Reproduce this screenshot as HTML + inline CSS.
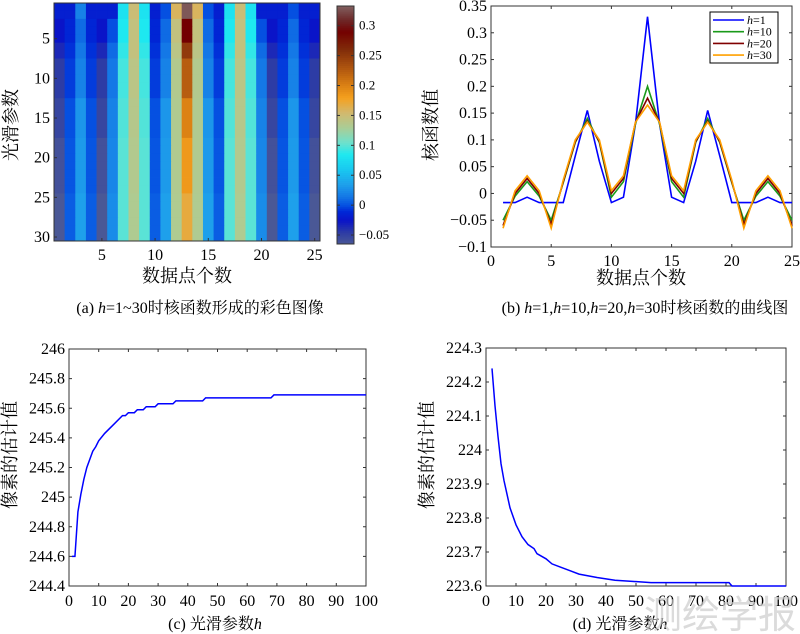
<!DOCTYPE html>
<html><head><meta charset="utf-8"><style>
html,body{margin:0;padding:0;background:#fff;}
svg{display:block;font-family:"Liberation Serif","Noto Serif CJK SC","Noto Sans CJK SC",serif;}
</style></head><body>
<svg id="fig" width="800" height="634" viewBox="0 0 800 634" xmlns="http://www.w3.org/2000/svg">
<g id="gA"></g>
<g id="gB"></g>
<g id="gC"></g>
<g id="gD"></g>
<text x="720" y="628" font-size="38" fill="#ccc" opacity="0.7" text-anchor="middle" font-family="'Noto Sans CJK SC',sans-serif">测绘学报</text>
</svg>
<script>
// ---------- data ----------
const pointsX = [1,2,3,4,5,6,7,8,9,10,11,12,13,14,15,16,17,18,19,20,21,22,23,24,25];
const kernH1  = [-0.017,-0.017,-0.007,-0.017,-0.017,-0.017,0.07,0.155,0.06,-0.017,-0.007,0.13,0.33,0.13,-0.007,-0.017,0.06,0.155,0.07,-0.017,-0.017,-0.017,-0.007,-0.017,-0.017];
const kernH10 = [-0.05,-0.005,0.022,-0.005,-0.05,0.02,0.095,0.14,0.095,-0.007,0.022,0.13,0.2,0.13,0.022,-0.007,0.095,0.14,0.095,0.02,-0.05,-0.005,0.022,-0.005,-0.05];
const kernH20 = [-0.06,0.0,0.028,0.0,-0.058,0.022,0.097,0.135,0.097,0.0,0.028,0.133,0.178,0.133,0.028,0.0,0.097,0.135,0.097,0.022,-0.058,0.0,0.028,0.0,-0.06];
const kernH30 = [-0.065,0.005,0.033,0.005,-0.065,0.025,0.1,0.133,0.1,0.005,0.033,0.133,0.165,0.133,0.033,0.005,0.1,0.133,0.1,0.025,-0.065,0.005,0.033,0.005,-0.065];
const legendLabels = ["1","10","20","30"];
// heatmap: row vectors and which h rows use each
const hmRowA = [-0.017,-0.017,0.02,-0.017,-0.017,-0.017,0.08,0.15,0.08,-0.017,0.0,0.16,0.33,0.16,0.0,-0.017,0.08,0.15,0.08,-0.017,-0.017,-0.017,0.0,-0.017,-0.017];
const hmRowB = [-0.025,-0.012,0.01,-0.012,-0.025,0.0,0.085,0.145,0.085,-0.012,0.01,0.145,0.29,0.145,0.01,-0.012,0.085,0.145,0.085,0.0,-0.025,-0.012,0.01,-0.012,-0.025];
const hmRowC = [-0.035,-0.008,0.015,-0.008,-0.035,0.01,0.09,0.145,0.09,-0.008,0.015,0.14,0.25,0.14,0.015,-0.008,0.09,0.145,0.09,0.01,-0.035,-0.008,0.015,-0.008,-0.035];
const hmRowD = [-0.045,-0.005,0.02,-0.005,-0.045,0.015,0.095,0.14,0.095,-0.005,0.02,0.135,0.225,0.135,0.02,-0.005,0.095,0.14,0.095,0.015,-0.045,-0.005,0.02,-0.005,-0.045];
const hmRowE = [-0.052,0.0,0.03,0.0,-0.052,0.02,0.098,0.137,0.098,0.0,0.03,0.134,0.2,0.134,0.03,0.0,0.098,0.137,0.098,0.02,-0.052,0.0,0.03,0.0,-0.052];
const hmRowF = [-0.06,0.002,0.032,0.002,-0.06,0.022,0.1,0.135,0.1,0.002,0.032,0.134,0.185,0.134,0.032,0.002,0.1,0.135,0.1,0.022,-0.06,0.002,0.032,0.002,-0.06];
const hmRowG = [-0.065,0.005,0.035,0.005,-0.065,0.025,0.1,0.133,0.1,0.005,0.035,0.133,0.17,0.133,0.035,0.005,0.1,0.133,0.1,0.025,-0.065,0.005,0.035,0.005,-0.065];
const hmRowUse = ["A","A","B","B","B","C","C","D","D","D","D","D","E","E","E","E","E","F","F","F","F","F","F","F","G","G","G","G","G","G"];
const cbTicks = [-0.05,0,0.05,0.1,0.15,0.2,0.25,0.3];
const cbTickLabels = ["\u22120.05","0","0.05","0.1","0.15","0.2","0.25","0.3"];
// panel c
const hC = [1,2,3,4,5,6,8,9,10,12,15,18,19,20,22,23,25,26,29,30,35,36,45,46,68,69,100];
const vC = [244.6,244.6,244.9,245.02,245.12,245.2,245.31,245.34,245.38,245.43,245.49,245.55,245.55,245.57,245.57,245.59,245.59,245.61,245.61,245.63,245.63,245.65,245.65,245.67,245.67,245.69,245.69];
// panel d
const hD = [2,3,4,5,6,7,8,10,12,14,16,17,20,22,25,28,31,37,43,55,81,82,100];
const vD = [224.24,224.13,224.04,223.96,223.91,223.87,223.83,223.78,223.745,223.722,223.71,223.695,223.68,223.665,223.655,223.645,223.635,223.625,223.617,223.61,223.61,223.6,223.6];
const cTicks = [244.4,244.6,244.8,245,245.2,245.4,245.6,245.8,246];
const cTickLabels = ["244.4","244.6","244.8","245","245.2","245.4","245.6","245.8","246"];
const dTicks = [223.6,223.7,223.8,223.9,224,224.1,224.2,224.3];
const dTickLabels = ["223.6","223.7","223.8","223.9","224","224.1","224.2","224.3"];
const hTicks = [0,10,20,30,40,50,60,70,80,90,100];

// ---------- helpers ----------
const NS="http://www.w3.org/2000/svg";
const FS=16;
function el(parent,tag,attrs,text){const e=document.createElementNS(NS,tag);for(const k in attrs)e.setAttribute(k,attrs[k]);if(text!==undefined)e.textContent=text;parent.appendChild(e);return e;}
function lin(d0,d1,r0,r1){return v=>r0+(v-d0)/(d1-d0)*(r1-r0);}
const cmapV=[-0.065,-0.045,-0.025,-0.01,0.0,0.015,0.035,0.06,0.085,0.105,0.13,0.155,0.18,0.2,0.23,0.26,0.29,0.31,0.333];
const cmapC=[[74,88,150],[45,60,165],[10,20,200],[0,40,215],[5,80,225],[20,120,230],[30,160,235],[25,200,240],[30,232,240],[110,225,205],[170,205,150],[210,185,110],[245,160,30],[220,130,20],[175,85,15],[130,45,10],[115,0,0],[110,40,40],[128,95,95]];
function cmap(v){
  if(v<=cmapV[0])return `rgb(${cmapC[0]})`;
  for(let i=1;i<cmapV.length;i++){if(v<=cmapV[i]){const t=(v-cmapV[i-1])/(cmapV[i]-cmapV[i-1]);const a=cmapC[i-1],b=cmapC[i];return `rgb(${a.map((x,j)=>Math.round(x+(b[j]-x)*t)).join(",")})`;}}
  return `rgb(${cmapC[cmapC.length-1]})`;
}

// ---------- panel A ----------
(function(){
  const g=document.getElementById('gA');
  const L=54,R=320,T=3,B=241;
  const xs=lin(0.5,25.5,L,R), ys=lin(0.5,30.5,T,B);
  const rows={A:hmRowA,B:hmRowB,C:hmRowC,D:hmRowD,E:hmRowE,F:hmRowF,G:hmRowG};
  for(let r=0;r<hmRowUse.length;r++){
    const vec=rows[hmRowUse[r]];
    for(let c=0;c<pointsX.length;c++){
      const cell=el(g,'rect',{x:xs(pointsX[c]-0.5),y:ys(r+0.5),width:xs(1.5)-xs(0.5)+0.4,height:ys(1.5)-ys(0.5)+0.4,fill:cmap(vec[c])});
      
      
    }
  }
  el(g,'rect',{x:L,y:T,width:R-L,height:B-T,fill:'none',stroke:'#333','stroke-width':1});
  [5,10,15,20,25].forEach(v=>{el(g,'line',{x1:xs(v),x2:xs(v),y1:B,y2:B-3,stroke:'#333'});el(g,'text',{x:xs(v),y:B+19,'font-size':FS,'text-anchor':'middle'},String(v));});
  [5,10,15,20,25,30].forEach(v=>{el(g,'line',{x1:L,x2:L+3,y1:ys(v),y2:ys(v),stroke:'#333'});el(g,'text',{x:L-4,y:ys(v)+5,'font-size':FS,'text-anchor':'end'},String(v));});
  const xl=el(g,'text',{x:187,y:282,'font-size':18,'text-anchor':'middle'},'数据点个数');
  const yl=el(g,'text',{x:0,y:0,'font-size':18,'text-anchor':'middle',transform:'translate(17,125) rotate(-90)'},'光滑参数');
  const cap=el(g,'text',{x:200,y:313,'font-size':16,'text-anchor':'middle'});
  cap.innerHTML='(a) <tspan font-style="italic">h</tspan>=1~30时核函数形成的彩色图像';
  // colorbar
  const cbL=337,cbR=354,cbT=6,cbB=244;
  const cy=lin(-0.065,0.333,cbB,cbT);
  const cb=el(g,'g',{});
  for(let i=0;i<120;i++){const v0=-0.065+(0.398)*i/120,v1=-0.065+0.398*(i+1)/120;el(cb,'rect',{x:cbL,y:cy(v1),width:cbR-cbL,height:cy(v0)-cy(v1)+0.5,fill:cmap((v0+v1)/2)});}
  el(cb,'rect',{x:cbL,y:cbT,width:cbR-cbL,height:cbB-cbT,fill:'none',stroke:'#333'});
  cbTicks.forEach((v,i)=>{el(cb,'line',{x1:cbL,x2:cbL+3,y1:cy(v),y2:cy(v),stroke:'#333'});el(cb,'line',{x1:cbR-3,x2:cbR,y1:cy(v),y2:cy(v),stroke:'#333'});el(cb,'text',{x:cbR+5,y:cy(v)+4,'font-size':13},cbTickLabels[i]);});
})();

// ---------- panel B ----------
(function(){
  const g=document.getElementById('gB');
  const L=491,R=792,T=6,B=247;
  const xs=lin(0,25,L,R), ys=lin(-0.1,0.35,B,T);
  el(g,'rect',{x:L,y:T,width:R-L,height:B-T,fill:'#fff',stroke:'#333'});
  [0,5,10,15,20,25].forEach(v=>{el(g,'line',{x1:xs(v),x2:xs(v),y1:B,y2:B-3,stroke:'#333'});el(g,'line',{x1:xs(v),x2:xs(v),y1:T,y2:T+3,stroke:'#333'});el(g,'text',{x:xs(v),y:B+19,'font-size':FS,'text-anchor':'middle'},String(v));});
  const yt=[-0.1,-0.05,0,0.05,0.1,0.15,0.2,0.25,0.3,0.35],ytl=["\u22120.1","\u22120.05","0","0.05","0.1","0.15","0.2","0.25","0.3","0.35"];
  yt.forEach((v,i)=>{el(g,'line',{x1:L,x2:L+3,y1:ys(v),y2:ys(v),stroke:'#333'});el(g,'line',{x1:R-3,x2:R,y1:ys(v),y2:ys(v),stroke:'#333'});el(g,'text',{x:L-4,y:ys(v)+5,'font-size':FS,'text-anchor':'end'},ytl[i]);});
  const series=[kernH1,kernH10,kernH20,kernH30],cols=['#0000ff','#1a9a1a','#800000','#ffa000'],names=['series-h1','series-h10','series-h20','series-h30'];
  series.forEach((s,k)=>{const p=el(g,'polyline',{points:s.map((v,i)=>xs(pointsX[i])+','+ys(v)).join(' '),fill:'none',stroke:cols[k],'stroke-width':1.6});});
  const lg=el(g,'g',{});
  el(lg,'rect',{x:710,y:12,width:68,height:51,fill:'#fff',stroke:'#000'});
  legendLabels.forEach((t,i)=>{const y=20+i*11.7;const en=el(lg,'g',{});el(en,'line',{x1:713,x2:744,y1:y,y2:y,stroke:cols[i],'stroke-width':1.6});const tx=el(en,'text',{x:747,y:y+4,'font-size':12});tx.innerHTML='<tspan font-style="italic">h</tspan>='+t;});
  const xl=el(g,'text',{x:641,y:284,'font-size':18,'text-anchor':'middle'},'数据点个数');
  const yl=el(g,'text',{x:0,y:0,'font-size':18,'text-anchor':'middle',transform:'translate(437,125) rotate(-90)'},'核函数值');
  const cap=el(g,'text',{x:645,y:313,'font-size':16,'text-anchor':'middle'});
  cap.innerHTML='(b) <tspan font-style="italic">h</tspan>=1,<tspan font-style="italic">h</tspan>=10,<tspan font-style="italic">h</tspan>=20,<tspan font-style="italic">h</tspan>=30时核函数的曲线图';
})();

// ---------- panels C, D ----------
function lineChart(g,L,R,T,B,y0,y1,ticks,labels,hs,vs,yTitleX,capText,capX){
  const xs=lin(0,100,L,R), ys=lin(y0,y1,B,T);
  el(g,'rect',{x:L,y:T,width:R-L,height:B-T,fill:'#fff',stroke:'#333'});
  hTicks.forEach(v=>{el(g,'line',{x1:xs(v),x2:xs(v),y1:B,y2:B-3,stroke:'#333'});el(g,'line',{x1:xs(v),x2:xs(v),y1:T,y2:T+3,stroke:'#333'});el(g,'text',{x:xs(v),y:B+20,'font-size':FS,'text-anchor':'middle'},String(v));});
  ticks.forEach((v,i)=>{el(g,'line',{x1:L,x2:L+3,y1:ys(v),y2:ys(v),stroke:'#333'});el(g,'line',{x1:R-3,x2:R,y1:ys(v),y2:ys(v),stroke:'#333'});el(g,'text',{x:L-4,y:ys(v)+5,'font-size':FS,'text-anchor':'end'},labels[i]);});
  const p=el(g,'polyline',{points:hs.map((h,i)=>xs(h)+','+ys(vs[i])).join(' '),fill:'none',stroke:'#0000ff','stroke-width':1.5});
  
  const yl=el(g,'text',{x:0,y:0,'font-size':18,'text-anchor':'middle',transform:`translate(${yTitleX},455) rotate(-90)`},'像素的估计值');
  const cap=el(g,'text',{x:capX,y:629,'font-size':16,'text-anchor':'middle'});
  cap.innerHTML=capText+'<tspan font-style="italic">h</tspan>';
}
lineChart(document.getElementById('gC'),69,366,349,586,244.4,246,cTicks,cTickLabels,hC,vC,16,'(c) 光滑参数',215);
lineChart(document.getElementById('gD'),486,786,348,586,223.6,224.3,dTicks,dTickLabels,hD,vD,433,'(d) 光滑参数',620);
</script>
</body></html>
